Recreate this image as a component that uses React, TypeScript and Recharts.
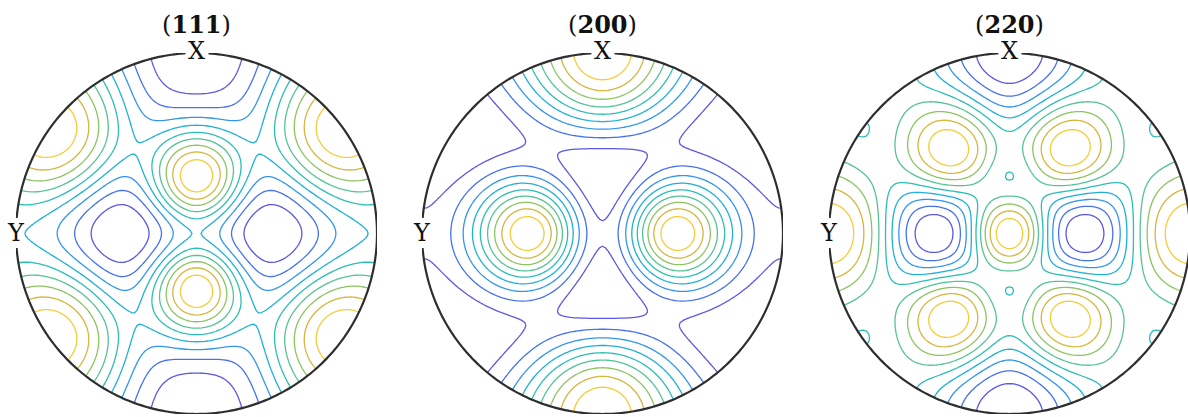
import { LineChart, Line, XAxis, YAxis } from 'recharts'

// Pole figures of a Goss {110}<001> texture, stereographic projection, X (RD) up, Y (TD) left
const FIGURE_TITLES = ['111', '200', '220']
const POLE_FAMILIES = [
  [1, 1, 1],
  [2, 0, 0],
  [2, 2, 0],
]
// Goss component: sample axes given in crystal coordinates
const RD_AXIS = [1, 0, 0]
const TD_AXIS = [0, 1, -1]
const ND_AXIS = [0, 1, 1]
const HALF_WIDTH_DEG = 21

// contour levels as fractions of each figure's min..max range
const LEVEL_FRACTIONS = [0.1, 0.2, 0.3, 0.4, 0.5, 0.6, 0.7, 0.8, 0.9]
const LEVEL_COLORS = [
  '#5a58e4',
  '#4672f0',
  '#3396ec',
  '#1fb0d8',
  '#2bbeb6',
  '#55c395',
  '#8dc460',
  '#d6b63e',
  '#f6cc38',
]

const PANEL_CX = [196.5, 602.5, 1009.5]
const PANEL_CY = 233
const RADIUS = 180.5
const PAD = 2

type V3 = [number, number, number]
type XY = [number, number]
type Pt = { x: number; y: number | null }

const norm = (v: number[]): V3 => {
  const l = Math.hypot(v[0], v[1], v[2])
  return [v[0] / l, v[1] / l, v[2] / l]
}
const dot = (a: number[], b: number[]) => a[0] * b[0] + a[1] * b[1] + a[2] * b[2]

function equivalents(hkl: number[]): V3[] {
  const perms = [[0, 1, 2], [0, 2, 1], [1, 0, 2], [1, 2, 0], [2, 0, 1], [2, 1, 0]]
  const seen = new Set<string>()
  const out: V3[] = []
  for (const p of perms) {
    for (let s = 0; s < 8; s++) {
      const v = p.map((k, i) => hkl[k] * ((s >> i) & 1 ? -1 : 1))
      const key = v.map((c) => String(c + 0)).join(',')
      if (!seen.has(key)) {
        seen.add(key)
        out.push(norm(v))
      }
    }
  }
  return out
}

// pole directions in sample frame (RD, TD, ND)
function samplePoles(hkl: number[]): V3[] {
  const rd = norm(RD_AXIS)
  const td = norm(TD_AXIS)
  const nd = norm(ND_AXIS)
  return equivalents(hkl).map((h) => [dot(h, rd), dot(h, td), dot(h, nd)] as V3)
}

const N = 141
const GRID_MIN = -1.05
const coords = Array.from({ length: N }, (_, i) => GRID_MIN + (i * 2 * -GRID_MIN) / (N - 1))

function density(poles: V3[]) {
  const s2 = 2 * (HALF_WIDTH_DEG * Math.PI / 180) ** 2
  const f = new Float64Array(N * N)
  let lo = Infinity
  let hi = -Infinity
  for (let j = 0; j < N; j++) {
    for (let i = 0; i < N; i++) {
      const u = coords[i]
      const v = coords[j]
      const s = u * u + v * v
      const d = 1 + s
      const r: V3 = [(2 * v) / d, (-2 * u) / d, (1 - s) / d]
      let sum = 0
      for (const p of poles) {
        const w = Math.acos(Math.max(-1, Math.min(1, dot(r, p))))
        sum += Math.exp(-(w * w) / s2)
      }
      f[j * N + i] = sum
      if (s <= 1) {
        lo = Math.min(lo, sum)
        hi = Math.max(hi, sum)
      }
    }
  }
  return { f, lo, hi }
}

// marching squares, segments chained into polylines
function contourLines(f: Float64Array, level: number): XY[][] {
  const pts = new Map<string, XY>()
  const adj = new Map<string, string[]>()
  const at = (i: number, j: number) => f[j * N + i]
  const edge = (i1: number, j1: number, i2: number, j2: number) => {
    const key = `${i1},${j1},${i2},${j2}`
    if (!pts.has(key)) {
      const a = at(i1, j1)
      const b = at(i2, j2)
      const t = (level - a) / (b - a)
      pts.set(key, [
        coords[i1] + t * (coords[i2] - coords[i1]),
        coords[j1] + t * (coords[j2] - coords[j1]),
      ])
    }
    return key
  }
  const link = (k1: string, k2: string) => {
    if (!adj.has(k1)) adj.set(k1, [])
    if (!adj.has(k2)) adj.set(k2, [])
    adj.get(k1)!.push(k2)
    adj.get(k2)!.push(k1)
  }
  for (let j = 0; j < N - 1; j++) {
    for (let i = 0; i < N - 1; i++) {
      const a = at(i, j), b = at(i + 1, j), c = at(i + 1, j + 1), d = at(i, j + 1)
      const A = a >= level, B = b >= level, C = c >= level, D = d >= level
      const e0 = A !== B ? edge(i, j, i + 1, j) : null
      const e1 = B !== C ? edge(i + 1, j, i + 1, j + 1) : null
      const e2 = D !== C ? edge(i, j + 1, i + 1, j + 1) : null
      const e3 = A !== D ? edge(i, j, i, j + 1) : null
      const list = [e0, e1, e2, e3].filter((e): e is string => e !== null)
      if (list.length === 2) link(list[0], list[1])
      else if (list.length === 4) {
        const center = (a + b + c + d) / 4 >= level
        if (center === A) {
          link(e0!, e1!)
          link(e2!, e3!)
        } else {
          link(e0!, e3!)
          link(e1!, e2!)
        }
      }
    }
  }
  const used = new Set<string>()
  const walk = (start: string) => {
    const chain = [start]
    used.add(start)
    let cur = start
    for (;;) {
      const nb = adj.get(cur)!.find((k) => !used.has(k))
      if (!nb) {
        if (chain.length > 2 && adj.get(cur)!.includes(start)) chain.push(start)
        break
      }
      used.add(nb)
      chain.push(nb)
      cur = nb
    }
    return chain.map((k) => pts.get(k)!)
  }
  const chains: XY[][] = []
  for (const [k, nbs] of adj) if (nbs.length === 1 && !used.has(k)) chains.push(walk(k))
  for (const k of adj.keys()) if (!used.has(k)) chains.push(walk(k))
  return chains
}

function rimCrossing(q: XY, p: XY, entering: boolean): XY {
  const dx = p[0] - q[0], dy = p[1] - q[1]
  const a = dx * dx + dy * dy
  const b = 2 * (q[0] * dx + q[1] * dy)
  const c = q[0] * q[0] + q[1] * q[1] - 1
  const disc = Math.sqrt(Math.max(0, b * b - 4 * a * c))
  const t = entering ? (-b - disc) / (2 * a) : (-b + disc) / (2 * a)
  return [q[0] + t * dx, q[1] + t * dy]
}

function clipToDisc(line: XY[]): XY[][] {
  const inside = (p: XY) => p[0] * p[0] + p[1] * p[1] <= 1
  const out: XY[][] = []
  let cur: XY[] = []
  for (let k = 0; k < line.length; k++) {
    const p = line[k]
    if (k > 0) {
      const q = line[k - 1]
      const qi = inside(q), pi = inside(p)
      if (qi !== pi) {
        cur.push(rimCrossing(q, p, !qi))
        if (qi) {
          out.push(cur)
          cur = []
        }
      }
    }
    if (inside(p)) cur.push(p)
  }
  out.push(cur)
  return out.filter((c) => c.length > 1)
}

// one series per level, polylines separated by null gaps
function buildFigure(hkl: number[]): Pt[][] {
  const { f, lo, hi } = density(samplePoles(hkl))
  return LEVEL_FRACTIONS.map((frac) => {
    const level = lo + frac * (hi - lo)
    const series: Pt[] = []
    for (const chain of contourLines(f, level)) {
      for (const part of clipToDisc(chain)) {
        for (const [x, y] of part) series.push({ x, y })
        series.push({ x: part[part.length - 1][0], y: null })
      }
    }
    return series
  })
}

const FIGURES = POLE_FAMILIES.map(buildFigure)

const RIM: Pt[] = Array.from({ length: 361 }, (_, k) => ({
  x: Math.cos((k * Math.PI) / 180),
  y: Math.sin((k * Math.PI) / 180),
}))

const serif = '"DejaVu Serif", "Liberation Serif", serif'

function PoleFigure({ index }: { index: number }) {
  const size = 2 * RADIUS + 2 * PAD
  const cx = PANEL_CX[index]
  return (
    <>
      <div style={{ position: 'absolute', left: cx - size / 2, top: PANEL_CY - size / 2 }}>
        <LineChart width={size} height={size} margin={{ top: PAD, right: PAD, bottom: PAD, left: PAD }}>
          <XAxis dataKey="x" type="number" domain={[-1, 1]} hide allowDataOverflow />
          <YAxis type="number" domain={[-1, 1]} hide allowDataOverflow />
          {FIGURES[index].map((series, li) => (
            <Line
              key={li}
              data={series}
              dataKey="y"
              type="linear"
              stroke={LEVEL_COLORS[li]}
              strokeWidth={1.3}
              strokeLinejoin="round"
              strokeLinecap="round"
              dot={false}
              activeDot={false}
              connectNulls={false}
              isAnimationActive={false}
            />
          ))}
          <Line
            data={RIM}
            dataKey="y"
            type="linear"
            stroke="#2e2e2e"
            strokeWidth={2.2}
            dot={false}
            activeDot={false}
            isAnimationActive={false}
          />
        </LineChart>
      </div>
      <div
        style={{
          position: 'absolute',
          left: cx,
          top: 25,
          transform: 'translate(-50%, -50%)',
          fontFamily: serif,
          fontSize: 24,
          lineHeight: '24px',
          color: '#111',
          whiteSpace: 'nowrap',
        }}
      >
        (<b>{FIGURE_TITLES[index]}</b>)
      </div>
      <div
        style={{
          position: 'absolute',
          left: cx,
          top: 51,
          transform: 'translate(-50%, -50%)',
          fontFamily: serif,
          fontSize: 24,
          lineHeight: '22px',
          background: '#fff',
          padding: '0 3px',
          color: '#111',
        }}
      >
        X
      </div>
      <div
        style={{
          position: 'absolute',
          left: cx - RADIUS,
          top: PANEL_CY,
          transform: 'translate(-50%, -50%)',
          fontFamily: serif,
          fontSize: 24,
          lineHeight: '22px',
          background: '#fff',
          padding: '4px 0',
          color: '#111',
        }}
      >
        Y
      </div>
    </>
  )
}

export default function App() {
  return (
    <div
      style={{
        position: 'absolute',
        left: 0,
        top: 0,
        width: 1188,
        height: 417,
        overflow: 'hidden',
        background: '#fff',
      }}
    >
      {FIGURE_TITLES.map((_, i) => (
        <PoleFigure key={i} index={i} />
      ))}
    </div>
  )
}
